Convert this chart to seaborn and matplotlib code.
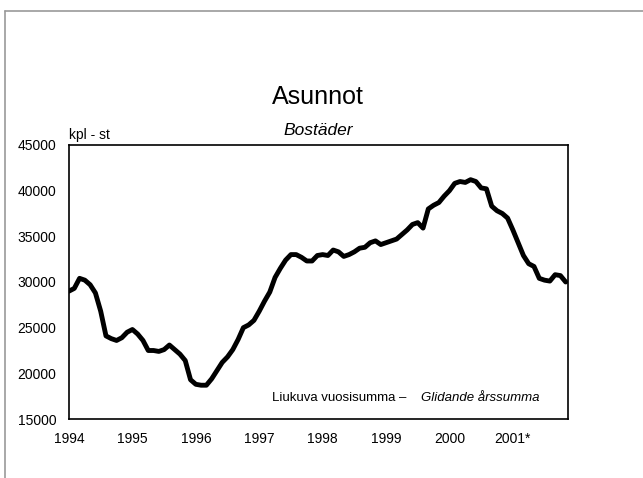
import numpy as np
import pandas as pd
import seaborn as sns
import matplotlib.pyplot as plt
from matplotlib.lines import Line2D

# liukuva vuosisumma, kuukausittain tammikuu 1994 - marraskuu 2001
start_year = 1994
values = [
    29000, 29300, 30400, 30200, 29700, 28800, 26800, 24100, 23800, 23600, 23900, 24500,
    24800, 24300, 23600, 22500, 22500, 22400, 22600, 23100, 22600, 22100, 21400, 19300,
    18800, 18700, 18700, 19400, 20300, 21200, 21800, 22600, 23700, 25000, 25300, 25800,
    26800, 27900, 28900, 30500, 31500, 32400, 33000, 33000, 32700, 32300, 32300, 32900,
    33000, 32900, 33500, 33300, 32800, 33000, 33300, 33700, 33800, 34300, 34500, 34100,
    34300, 34500, 34700, 35200, 35700, 36300, 36500, 35900, 38000, 38400, 38700, 39400,
    40000, 40800, 41000, 40900, 41200, 41000, 40300, 40200, 38300, 37800, 37500, 37000,
    35700, 34300, 32900, 32000, 31700, 30400, 30200, 30100, 30800, 30700, 30000,
]
year_ticks = [1994, 1995, 1996, 1997, 1998, 1999, 2000, 2001]
year_labels = ["1994", "1995", "1996", "1997", "1998", "1999", "2000", "2001*"]
y_ticks = [15000, 20000, 25000, 30000, 35000, 40000, 45000]

df = pd.DataFrame({
    "t": start_year + np.arange(len(values)) / 12.0,
    "kpl": values,
})

sns.set_theme(style="white")
plt.rcParams['font.family'] = ['Liberation Sans', 'DejaVu Sans']
plt.rcParams['text.color'] = 'black'

fig = plt.figure(figsize=(6.43, 4.78), dpi=100)
ax = fig.add_axes([0.1073, 0.1234, 0.7761, 0.5733])

sns.lineplot(data=df, x="t", y="kpl", ax=ax, color="black", lw=3.5)

ax.set_xlim(1994, 2001.87)
ax.set_ylim(15000, 45000)
ax.set_xticks(year_ticks)
ax.set_xticklabels(year_labels)
ax.set_yticks(y_ticks)
ax.set_yticklabels([str(v) for v in y_ticks])
ax.tick_params(axis="both", length=0, labelsize=10, pad=9, colors="black")
ax.set_xlabel("")
ax.set_ylabel("")
for s in ax.spines.values():
    s.set_visible(True)
    s.set_color("black")
    s.set_linewidth(1.2)

ax.text(0.0, 1.012, "kpl - st", transform=ax.transAxes, fontsize=10, ha="left", va="bottom")
ax.text(0.677, 0.077, "Liukuva vuosisumma \u2013", transform=ax.transAxes, fontsize=9.5,
        ha="right", va="center")
ax.text(0.942, 0.077, "Glidande årssumma", transform=ax.transAxes, fontsize=9.5,
        ha="right", va="center", style="italic")

fig.text(0.495, 0.797, "Asunnot", fontsize=18, ha="center", va="center")
fig.text(0.495, 0.728, "Bostäder", fontsize=12.5, ha="center", va="center", style="italic")

# harmaa kehys
fig.add_artist(Line2D([0.008, 0.008], [0.0, 0.977], color="#999999", lw=1.2, transform=fig.transFigure))
fig.add_artist(Line2D([0.008, 1.0], [0.977, 0.977], color="#999999", lw=1.2, transform=fig.transFigure))

fig.savefig("out.png", dpi=100, facecolor="white")
